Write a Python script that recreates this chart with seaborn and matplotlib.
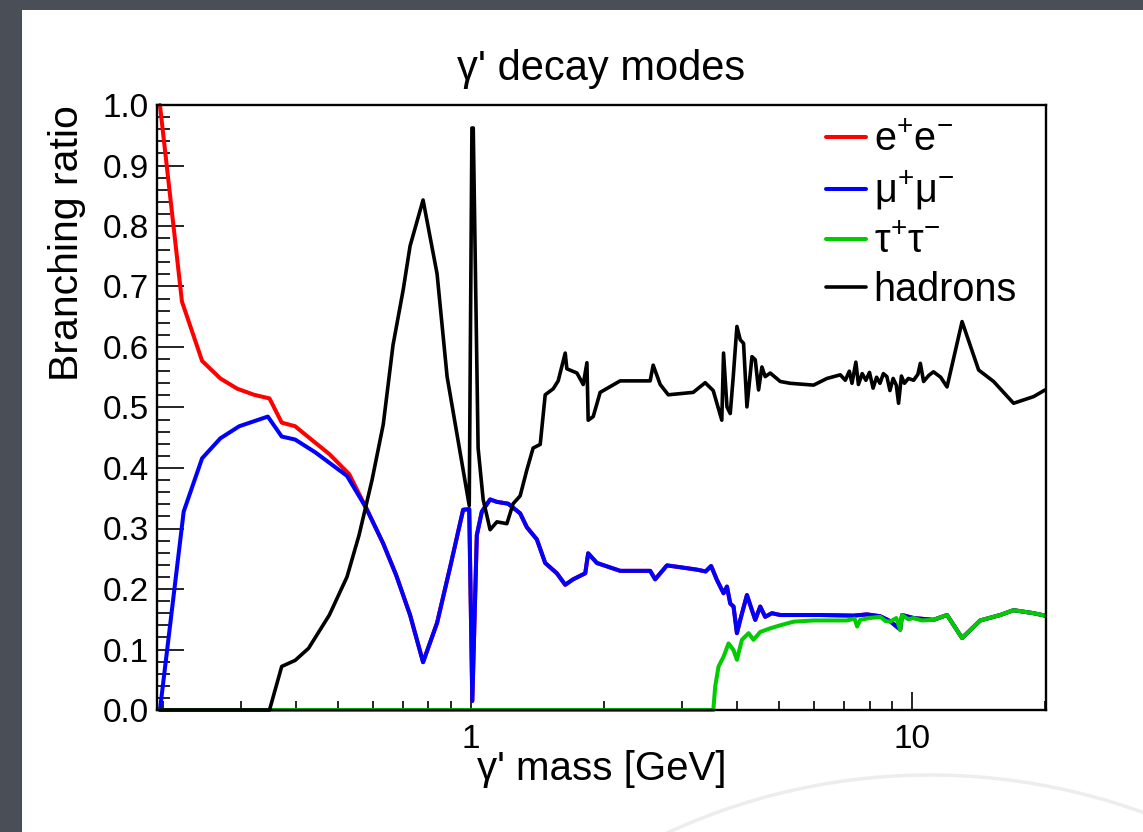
import matplotlib
matplotlib.use("Agg")
import matplotlib.pyplot as plt
from matplotlib.patches import Rectangle, Arc
from matplotlib.ticker import FixedLocator, FixedFormatter, NullFormatter, MultipleLocator, FormatStrFormatter
import pandas as pd
import seaborn as sns

# ---------------- data ----------------
mode_labels = [r"$\mathrm{e^{+}e^{-}}$", r"$\mathrm{\mu^{+}\mu^{-}}$",
               r"$\mathrm{\tau^{+}\tau^{-}}$", "hadrons"]
mode_colors = ["#ff0000", "#0000ff", "#00cc00", "#000000"]

mumu_mass = [0.197, 0.223, 0.2455, 0.270, 0.298, 0.346, 0.372, 0.399, 0.443, 0.523,
             0.578, 0.632, 0.676, 0.727, 0.778, 0.837, 0.896, 0.959, 0.99, 1.006,
             1.03, 1.0575, 1.104, 1.144, 1.213, 1.2915, 1.3376, 1.409, 1.472, 1.564,
             1.634, 1.703, 1.814, 1.842, 1.928, 2.177, 2.546, 2.613, 2.779, 2.978,
             3.249, 3.40, 3.50, 3.607, 3.734, 3.801, 3.867, 3.934, 4.004, 4.074,
             4.219, 4.331, 4.406, 4.522, 4.641, 4.806, 5.02, 6.185, 7.362, 7.9,
             8.461, 8.9, 9.39, 9.48, 10.07, 11.17, 11.99, 12.97, 14.26, 15.83,
             16.97, 18.84, 20.0]
mumu_br = [0.0, 0.328, 0.416, 0.449, 0.469, 0.485, 0.452, 0.447, 0.426, 0.387,
           0.334, 0.275, 0.223, 0.157, 0.079, 0.144, 0.236, 0.331, 0.332, 0.015,
           0.289, 0.328, 0.348, 0.344, 0.341, 0.325, 0.302, 0.282, 0.243, 0.226,
           0.207, 0.216, 0.226, 0.259, 0.243, 0.230, 0.230, 0.216, 0.239, 0.236,
           0.232, 0.229, 0.238, 0.215, 0.193, 0.204, 0.176, 0.171, 0.127, 0.149,
           0.190, 0.165, 0.149, 0.171, 0.154, 0.160, 0.157, 0.157, 0.156, 0.158,
           0.155, 0.147, 0.133, 0.157, 0.152, 0.149, 0.157, 0.119, 0.148, 0.157,
           0.165, 0.160, 0.156]

# below ~0.55 GeV e+e- differs; above it e+e- coincides with mu+mu-
ee_mass_low = [0.197, 0.221, 0.2455, 0.270, 0.295, 0.322, 0.349, 0.372, 0.399, 0.436,
               0.477, 0.529]
ee_br_low = [1.0, 0.675, 0.577, 0.548, 0.531, 0.521, 0.515, 0.475, 0.469, 0.446,
             0.423, 0.390]
ee_mass = ee_mass_low + mumu_mass[10:]
ee_br = ee_br_low + mumu_br[10:]

tautau_mass = [0.197, 3.54, 3.575, 3.638, 3.734, 3.832, 3.934, 4.004, 4.110, 4.255,
               4.367, 4.522, 4.764, 5.02, 5.381, 5.974, 7.11, 7.4, 7.5, 7.62,
               8.0, 8.46, 8.7, 8.91, 9.2, 9.39, 9.48, 9.8, 10.07, 10.5,
               11.17, 11.99, 12.97, 14.26, 15.83, 16.97, 18.84, 20.0]
tautau_br = [0.0, 0.0, 0.039, 0.072, 0.088, 0.110, 0.099, 0.083, 0.116, 0.127,
             0.116, 0.129, 0.135, 0.140, 0.146, 0.148, 0.148, 0.151, 0.138, 0.149,
             0.152, 0.154, 0.147, 0.146, 0.152, 0.132, 0.157, 0.150, 0.152, 0.148,
             0.149, 0.157, 0.119, 0.148, 0.157, 0.165, 0.160, 0.156]

hadron_mass = [0.197, 0.349, 0.372, 0.399, 0.428, 0.477, 0.523, 0.557, 0.596, 0.632,
               0.665, 0.7015, 0.727, 0.778, 0.837, 0.882, 0.947, 0.99, 1.004, 1.011,
               1.037, 1.0646, 1.104, 1.144, 1.205, 1.245, 1.2915, 1.3376, 1.382, 1.434,
               1.472, 1.535, 1.575, 1.634, 1.648, 1.737, 1.795, 1.830, 1.842, 1.891,
               1.961, 2.177, 2.546, 2.586, 2.683, 2.798, 3.187, 3.393, 3.538, 3.70,
               3.734, 3.801, 3.867, 3.928, 4.004, 4.074, 4.145, 4.219, 4.331, 4.406,
               4.483, 4.562, 4.641, 4.764, 5.02, 5.289, 5.974, 6.406, 6.868, 7.05,
               7.2, 7.3, 7.45, 7.55, 7.7, 7.85, 8.0, 8.15, 8.3, 8.45,
               8.6, 8.76, 8.9, 9.05, 9.2, 9.31, 9.45, 9.6, 9.8, 10.07,
               10.3, 10.43, 10.61, 10.9, 11.17, 11.6, 11.99, 12.97, 14.14, 15.29,
               16.97, 18.84, 20.0]
hadron_br = [0.0, 0.0, 0.072, 0.082, 0.102, 0.157, 0.220, 0.289, 0.380, 0.472,
             0.603, 0.695, 0.767, 0.843, 0.721, 0.551, 0.420, 0.338, 0.962, 0.962,
             0.433, 0.348, 0.298, 0.311, 0.308, 0.341, 0.354, 0.397, 0.433, 0.439,
             0.521, 0.531, 0.544, 0.590, 0.564, 0.557, 0.538, 0.574, 0.479, 0.485,
             0.525, 0.544, 0.544, 0.570, 0.538, 0.521, 0.525, 0.541, 0.528, 0.479,
             0.590, 0.501, 0.490, 0.551, 0.634, 0.612, 0.606, 0.501, 0.584, 0.579,
             0.529, 0.567, 0.551, 0.557, 0.543, 0.540, 0.537, 0.548, 0.554, 0.545,
             0.560, 0.540, 0.575, 0.538, 0.556, 0.545, 0.558, 0.532, 0.550, 0.540,
             0.556, 0.551, 0.528, 0.548, 0.537, 0.507, 0.552, 0.540, 0.548, 0.545,
             0.555, 0.573, 0.543, 0.553, 0.559, 0.550, 0.534, 0.642, 0.562, 0.543,
             0.507, 0.518, 0.529]

series_mass = [ee_mass, mumu_mass, tautau_mass, hadron_mass]
series_br = [ee_br, mumu_br, tautau_br, hadron_br]

x_major = [1, 10]
x_major_labels = ["1", "10"]
x_minor = [0.2, 0.3, 0.4, 0.5, 0.6, 0.7, 0.8, 0.9, 2, 3, 4, 5, 6, 7, 8, 9, 20]

# ---------------- style ----------------
sns.set_style("white")
plt.rcParams["font.family"] = ["Liberation Sans", "DejaVu Sans"]
plt.rcParams["mathtext.fontset"] = "custom"
plt.rcParams["mathtext.rm"] = "Liberation Sans"
plt.rcParams["mathtext.it"] = "Liberation Sans:italic"
plt.rcParams["mathtext.bf"] = "Liberation Sans:bold"
for key in ["text.color", "axes.labelcolor", "xtick.color", "ytick.color",
            "axes.edgecolor"]:
    plt.rcParams[key] = "black"

W, H = 1143, 832
fig = plt.figure(figsize=(W / 100, H / 100), dpi=100, facecolor="#4a4e57")
fig.add_artist(Rectangle((22 / W, 0), 1, 1 - 10 / H, transform=fig.transFigure,
                         facecolor="white", edgecolor="none", zorder=0))
fig.add_artist(Arc((930 / W, 1 - 1400 / H), 2 * 625 / W, 2 * 625 / H, theta1=68, theta2=110,
                   transform=fig.transFigure, color="#ededed", lw=2.5, zorder=0.5))

ax = fig.add_axes([157 / W, 1 - 710 / H, (1046 - 157) / W, (710 - 105) / H])
ax.set_facecolor("white")

lws = [2.9, 2.9, 2.9, 2.6]
for m, b, c, lab, lw in zip(series_mass, series_br, mode_colors, mode_labels, lws):
    df = pd.DataFrame({"mass": m, "br": b})
    sns.lineplot(data=df, x="mass", y="br", color=c, linewidth=lw, sort=False,
                 estimator=None, ax=ax, label=lab, clip_on=False)
handles, labs = ax.get_legend_handles_labels()

ax.set_xscale("log")
ax.set_xlim(0.194, 20.1)
ax.set_ylim(0, 1.0)

ax.xaxis.set_major_locator(FixedLocator(x_major))
ax.xaxis.set_major_formatter(FixedFormatter(x_major_labels))
ax.xaxis.set_minor_locator(FixedLocator(x_minor))
ax.xaxis.set_minor_formatter(NullFormatter())
ax.yaxis.set_major_locator(MultipleLocator(0.1))
ax.yaxis.set_minor_locator(MultipleLocator(0.02))
ax.yaxis.set_major_formatter(FormatStrFormatter("%.1f"))

ax.tick_params(axis="y", which="major", direction="in", length=19.4, width=1.2,
               labelsize=24, pad=6, left=True, right=False, colors="black")
ax.tick_params(axis="y", which="minor", direction="in", length=9.7, width=1.2,
               left=True, right=False, colors="black")
ax.tick_params(axis="x", which="major", direction="in", length=13, width=1.2,
               labelsize=24, pad=10, bottom=True, top=False, colors="black")
ax.tick_params(axis="x", which="minor", direction="in", length=6.5, width=1.2,
               bottom=True, top=False, colors="black")
for s in ax.spines.values():
    s.set_visible(True)
    s.set_linewidth(1.7)
    s.set_color("black")

ax.set_title("γ' decay modes", fontsize=30, pad=18, color="black")
ax.set_xlabel("γ' mass [GeV]", fontsize=29, color="black")
ax.xaxis.set_label_coords(0.5, -0.066)
ax.set_ylabel("Branching ratio", fontsize=29.5, loc="top", color="black")
ax.yaxis.set_label_coords(-0.080, 1.0)

leg = ax.legend(handles, labs, loc="upper left", bbox_to_anchor=(826 / W, 1 - 121 / H),
                bbox_transform=fig.transFigure, frameon=False, fontsize=28.5,
                handlelength=1.0, handletextpad=0.2, labelspacing=0.26,
                borderpad=0, borderaxespad=0)
for t in leg.get_texts():
    t.set_color("black")

fig.savefig("out.png", dpi=100, facecolor=fig.get_facecolor())
